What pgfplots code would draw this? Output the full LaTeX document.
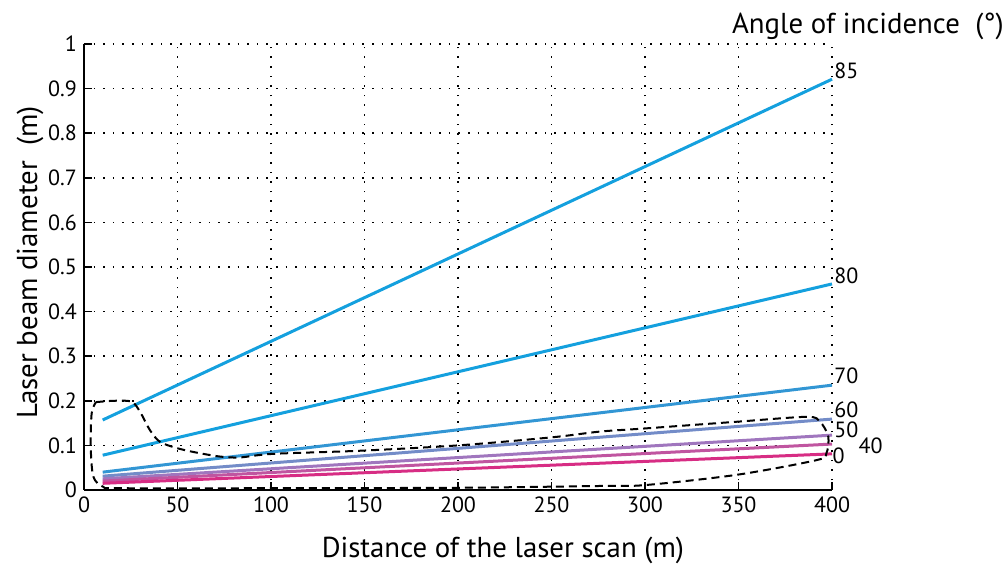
\documentclass[border=0pt]{standalone}
\usepackage{pgfplots}
\pgfplotsset{compat=1.18}
\usepackage{fontspec}
\setmainfont{PT Sans}
\definecolor{c85}{RGB}{20,160,222}
\definecolor{c80}{RGB}{20,160,222}
\definecolor{c70}{RGB}{50,150,212}
\definecolor{c60}{RGB}{115,140,200}
\definecolor{c50}{RGB}{160,118,190}
\definecolor{c40}{RGB}{192,85,160}
\definecolor{c0}{RGB}{215,45,132}
\begin{document}
\begin{tikzpicture}
\useasboundingbox (-42pt,-38pt) rectangle (459pt,245pt);
\begin{axis}[
  at={(0,0)}, anchor=south west,
  scale only axis, width=374pt, height=223pt,
  xmin=0, xmax=400, ymin=0, ymax=1,
  xtick={0,50,...,400}, ytick={0,0.1,...,1},
  yticklabels={0,0.1,0.2,0.3,0.4,0.5,0.6,0.7,0.8,0.9,1},
  axis x line*=bottom, axis y line*=left,
  axis line style={line width=1pt,-},
  tick align=inside, major tick length=4pt,
  tick style={black, line width=0.8pt},
  grid=major, major grid style={black, line width=0.8pt, dash pattern=on 0.8pt off 4pt},
  /pgf/number format/assume math mode=true,
  ticklabel style={font=\fontsize{11}{13}\selectfont},
  xlabel={Distance of the laser scan (m)},
  ylabel={Laser beam diameter\ \ (m)},
  label style={font=\fontsize{14.4}{16}\selectfont},
  xlabel style={at={(axis description cs:0.56,-0.1345)}, anchor=center},
  ylabel style={at={(axis description cs:-0.072,0.51)}, anchor=center},
  clip=false,
]
\addplot[c85, line width=1.5pt] coordinates {(10,0.157) (400,0.921)};
\addplot[c80, line width=1.5pt] coordinates {(10,0.078) (400,0.462)};
\addplot[c70, line width=1.5pt] coordinates {(10,0.040) (400,0.235)};
\addplot[c60, line width=1.5pt] coordinates {(10,0.031) (400,0.159)};
\addplot[c50, line width=1.5pt] coordinates {(10,0.025) (400,0.123)};
\addplot[c40, line width=1.5pt] coordinates {(10,0.020) (400,0.103)};
\addplot[c0, line width=1.5pt] coordinates {(10,0.015) (400,0.081)};
\addplot[black, line width=1pt, dash pattern=on 4pt off 2.5pt, smooth, tension=0.5] coordinates {
 (6.4,0.197) (16,0.200) (25.5,0.198) (30,0.175) (35.3,0.134) (40.6,0.108) (49.6,0.094)
 (60,0.084) (72.7,0.075) (83.4,0.073) (101,0.081) (147.6,0.088) (200,0.100)
 (250,0.118) (276,0.131) (300,0.138) (349,0.153) (386.5,0.164) (393.6,0.153)
 (398,0.12) (397,0.082) (391.8,0.067) (349,0.034) (300,0.011) (276,0.009)
 (200,0.005) (100,0.004) (20,0.004) (10.3,0.007) (5,0.03) (3.6,0.097) (4.1,0.172) (6.4,0.197)};
\begin{scope}[every node/.style={font=\fontsize{11}{13}\selectfont, anchor=west, inner sep=1pt}]
\node at (axis cs:400,0.94) {85};
\node at (axis cs:400,0.48) {80};
\node at (axis cs:400,0.256) {70};
\node at (axis cs:400,0.18) {60};
\node at (axis cs:400,0.135) {50};
\node at (axis cs:413,0.10) {40};
\node at (axis cs:399,0.076) {0};
\end{scope}
\node[font=\fontsize{14.4}{16}\selectfont] at (axis description cs:1.048,1.04) {Angle of incidence\ \ (°)};
\end{axis}
\end{tikzpicture}
\end{document}
